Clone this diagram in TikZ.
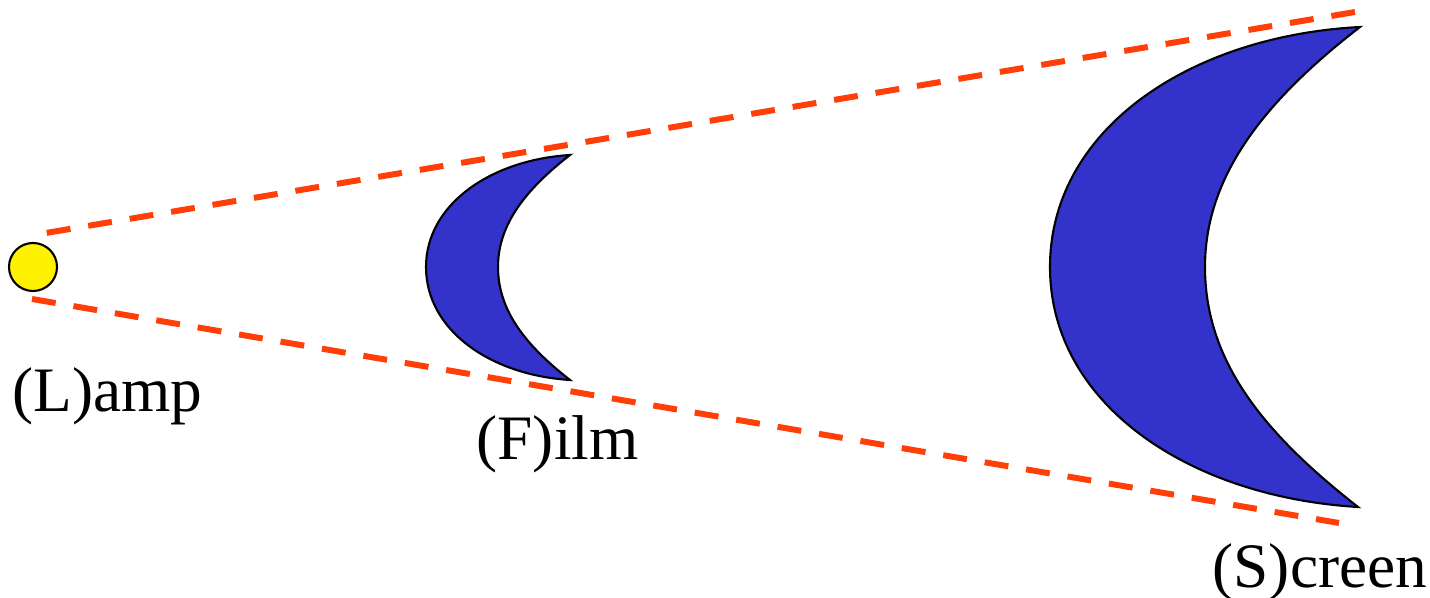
\documentclass[tikz,border=0pt]{standalone}
\usepackage{fontspec}
\setmainfont{Liberation Serif}
\usepackage{tikz}
\usetikzlibrary{positioning}
\definecolor{rayred}{RGB}{255,62,8}
\definecolor{moonblue}{RGB}{51,51,204}

\begin{document}
\begin{tikzpicture}[
    x=0.01cm, y=-0.01cm,
    lampdot/.style={circle, draw=black, line width=0.6pt, fill=yellow, minimum size=0.48cm, inner sep=0pt},
    blob/.style={draw=black, line width=0.6pt, fill=moonblue},
    ray/.style={draw=rayred, line width=1.7pt, dash pattern=on 6.83pt off 5.12pt},
    lbl/.style={anchor=base west, inner sep=0pt, font=\fontsize{18}{21}\selectfont},
  ]
    \useasboundingbox (0,0) rectangle (1430,598);

    \node[lampdot] (lamp) at (33,267) {};
    \coordinate (upA) at (40,234);
    \coordinate (upB) at (1355,12);
    \coordinate (loA) at (32,299);
    \coordinate (loB) at (1339,523);

    % film crescent
    \path[blob] (570,155) .. controls (490,160) and (426,205) .. (426,267)
      .. controls (426,330) and (490,375) .. (570,380)
      .. controls (525,345) and (498,310) .. (498,267)
      .. controls (498,225) and (525,190) .. (570,155) -- cycle;

    % screen crescent
    \path[blob] (1360,27) .. controls (1189,36) and (1050,130) .. (1050,267)
      .. controls (1050,404) and (1189,497) .. (1358,507)
      .. controls (1262,432) and (1205,360) .. (1205,267)
      .. controls (1205,177) and (1263,102) .. (1360,27) -- cycle;

    \draw[ray] (upB) -- (upA);
    \draw[ray] (loA) -- (loB);

    \node[lbl] (lampl) at (12,412) {(L)amp};
    \node[lbl] (filml) at (476,460) {(F)ilm};
    \node[lbl] (screenl) at (1212,588) {(S)creen};
  \end{tikzpicture}
\end{document}
